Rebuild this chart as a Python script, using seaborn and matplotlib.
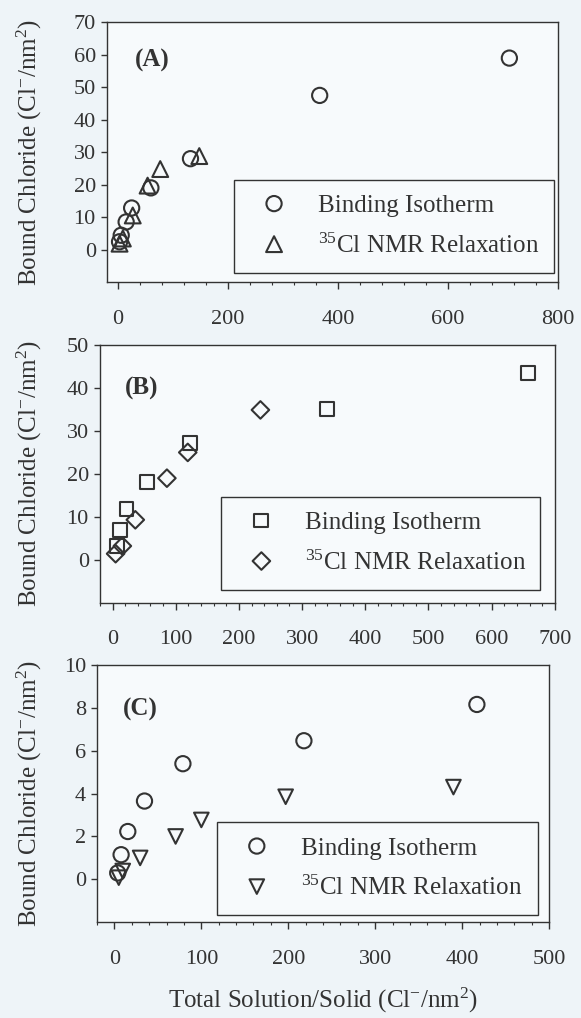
"""Bound chloride vs total solution/solid: binding isotherm vs 35Cl NMR relaxation, three stacked panels."""
import matplotlib
matplotlib.use("Agg")
import matplotlib.pyplot as plt
from matplotlib.ticker import MultipleLocator
import pandas as pd
import seaborn as sns

# (A) circles = binding isotherm, up-triangles = 35Cl NMR
a_iso_x = [3, 6, 15, 25, 60, 132, 367, 712]
a_iso_y = [2.4, 4.4, 8.5, 12.8, 19.0, 28.0, 47.5, 59.0]
a_nmr_x = [3, 9, 27, 54, 77, 148]
a_nmr_y = [1.8, 3.4, 10.5, 19.7, 24.8, 28.8]

# (B) squares / diamonds
b_iso_x = [7.5, 11.5, 22, 54, 123, 340, 658]
b_iso_y = [3.2, 7.0, 11.8, 18.1, 27.2, 35.2, 43.5]
b_nmr_x = [4.8, 15.5, 36, 86, 119, 234]
b_nmr_y = [1.4, 3.2, 9.3, 19.0, 25.0, 34.9]

# (C) circles / down-triangles
c_iso_x = [3.8, 7.7, 15.4, 34.6, 78.8, 218, 417]
c_iso_y = [0.3, 1.15, 2.23, 3.65, 5.39, 6.46, 8.15]
c_nmr_x = [5, 9.6, 29.6, 70.4, 100, 197, 390]
c_nmr_y = [0.08, 0.39, 1.0, 2.0, 2.77, 3.85, 4.3]

panel_tags = ["(A)", "(B)", "(C)"]
series_names = ["Binding Isotherm", "$^{35}$Cl NMR Relaxation"]
x_limits = [(-20, 800), (-20, 700), (-20, 500)]
y_limits = [(-10, 70), (-10, 50), (-2, 10)]
x_major = [200, 100, 100]
x_minor = [40, 20, 20]
y_ticks = [list(range(0, 71, 10)), list(range(0, 51, 10)), list(range(0, 11, 2))]

y_label = "Bound Chloride (Cl$^{-}$/nm$^{2}$)"
x_label = "Total Solution/Solid (Cl$^{-}$/nm$^{2}$)"

INK = "#333333"
PAPER = "#eef4f8"
PANEL = "#f7fafc"

sns.set_theme(style="ticks", rc={
    "axes.edgecolor": INK,
    "axes.linewidth": 1.0,
    "xtick.color": INK,
    "ytick.color": INK,
    "text.color": INK,
    "axes.labelcolor": INK,
})
plt.rcParams["font.family"] = ["Liberation Serif", "DejaVu Serif"]
plt.rcParams["mathtext.fontset"] = "custom"
plt.rcParams["mathtext.rm"] = "Liberation Serif"
plt.rcParams["mathtext.it"] = "Liberation Serif:italic"
plt.rcParams["mathtext.bf"] = "Liberation Serif:bold"

panels = [
    (a_iso_x, a_iso_y, a_nmr_x, a_nmr_y, ("o", "^"), (120, 130)),
    (b_iso_x, b_iso_y, b_nmr_x, b_nmr_y, ("s", "D"), (100, 80)),
    (c_iso_x, c_iso_y, c_nmr_x, c_nmr_y, ("o", "v"), (120, 110)),
]

# axes rectangles in figure fractions (the boxes are not quite aligned)
rects = [(0.184, 0.723, 0.776, 0.255), (0.172, 0.408, 0.783, 0.253), (0.167, 0.094, 0.778, 0.253)]
legend_boxes = [(0.282, 0.035, 0.71), (0.267, 0.05, 0.70), (0.265, 0.027, 0.71)]
tag_pos = [(0.062, 0.854), (0.055, 0.833), (0.057, 0.825)]

fig = plt.figure(figsize=(5.81, 10.18), dpi=100, facecolor=PAPER)

for i, (ix, iy, nx, ny, markers, sizes) in enumerate(panels):
    ax = fig.add_axes(rects[i], facecolor=PANEL)
    df = pd.DataFrame({
        "x": ix + nx,
        "y": iy + ny,
        "method": [series_names[0]] * len(ix) + [series_names[1]] * len(nx),
    })
    for name, marker, size in zip(series_names, markers, sizes):
        sns.scatterplot(data=df[df["method"] == name], x="x", y="y", marker=marker, s=size,
                        color=INK, facecolor="none", edgecolor=INK, linewidth=1.5,
                        label=name, ax=ax, zorder=3, clip_on=False)

    ax.set_xlim(*x_limits[i])
    ax.set_ylim(*y_limits[i])
    ax.xaxis.set_major_locator(MultipleLocator(x_major[i]))
    ax.xaxis.set_minor_locator(MultipleLocator(x_minor[i]))
    ax.set_yticks(y_ticks[i])
    ax.tick_params(axis="x", which="major", direction="out", length=5, width=1, pad=15, labelsize=16)
    ax.tick_params(axis="x", which="minor", direction="out", length=2.5, width=0.8)
    ax.tick_params(axis="y", which="major", direction="out", length=4, width=1, pad=4, labelsize=16)
    for spine in ax.spines.values():
        spine.set_visible(True)

    ax.set_ylabel(y_label, fontsize=18)
    left_px = rects[i][0] * 581
    ax.yaxis.set_label_coords((44 - left_px) / (rects[i][2] * 581), 0.5)
    if i == 2:
        ax.set_xlabel(x_label, fontsize=18, labelpad=12)
    else:
        ax.set_xlabel("")

    ax.text(*tag_pos[i], panel_tags[i], transform=ax.transAxes, fontsize=18,
            fontweight="bold", ha="left", va="center")

    lx, ly, lw = legend_boxes[i]
    leg = ax.legend(loc="lower left", bbox_to_anchor=(lx, ly, lw, 0.3), mode="expand",
                    borderaxespad=0, fontsize=18, frameon=True, fancybox=False,
                    edgecolor=INK, facecolor=PANEL, framealpha=1, handlelength=2.0,
                    handletextpad=0.75, borderpad=0.6, labelspacing=0.65,
                    scatteryoffsets=[0.5], labelcolor=INK)
    leg.get_frame().set_linewidth(1.0)

fig.savefig("out.png", dpi=100, facecolor=PAPER)
